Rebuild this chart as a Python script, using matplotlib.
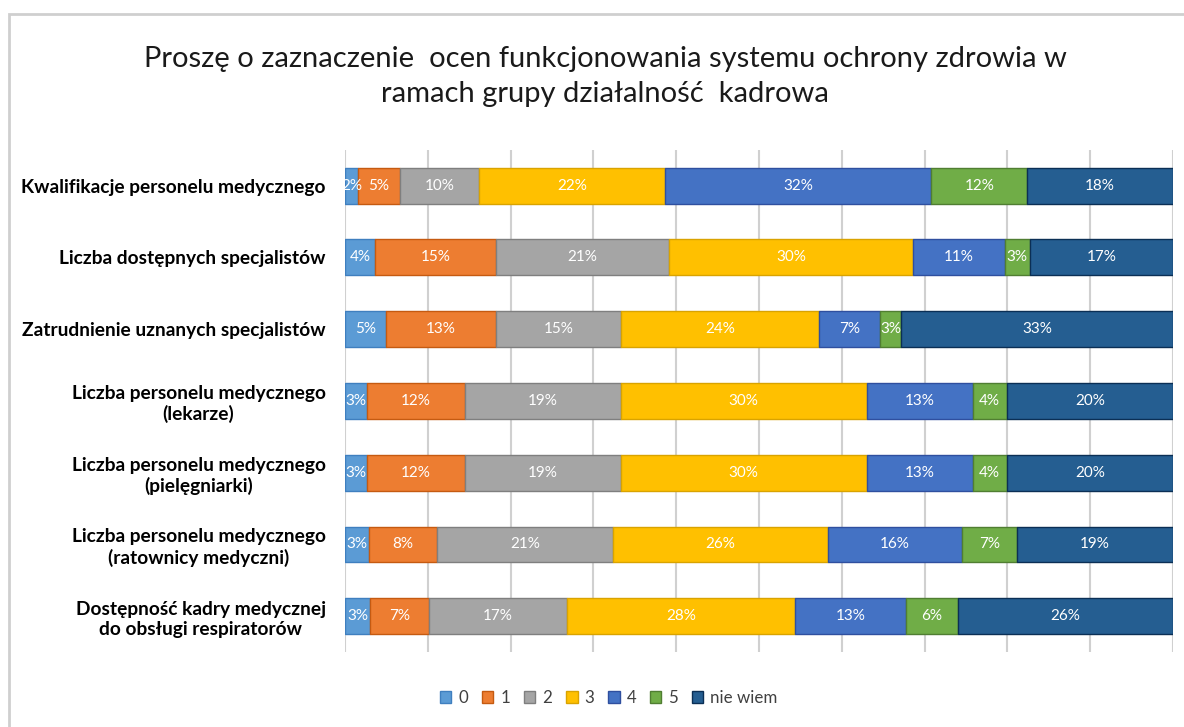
import numpy as np
import matplotlib
matplotlib.use('Agg')
import matplotlib.pyplot as plt
from matplotlib.patches import Rectangle

categories = ['Kwalifikacje personelu medycznego',
              'Liczba dostępnych specjalistów',
              'Zatrudnienie uznanych specjalistów',
              'Liczba personelu medycznego\n(lekarze)',
              'Liczba personelu medycznego\n(pielęgniarki)',
              'Liczba personelu medycznego\n(ratownicy medyczni)',
              'Dostępność kadry medycznej\ndo obsługi respiratorów']

series = ['0', '1', '2', '3', '4', '5', 'nie wiem']

# percent shares, one list per category
kwalifikacje = [1.6, 5.0, 9.6, 22.4, 32.2, 11.6, 17.6]
specjalisci = [3.6, 14.6, 20.9, 29.5, 11.1, 3.0, 17.3]
zatrudnienie = [4.9, 13.3, 15.1, 24.0, 7.3, 2.6, 32.8]
lekarze = [2.6, 11.9, 18.8, 29.7, 12.8, 4.1, 20.1]
pielegniarki = [2.6, 11.9, 18.8, 29.7, 12.8, 4.1, 20.1]
ratownicy = [2.9, 8.2, 21.3, 25.9, 16.2, 6.6, 18.9]
respiratory = [3.0, 7.2, 16.6, 27.6, 13.4, 6.2, 26.0]

colors = ['#5B9BD5', '#ED7D31', '#A5A5A5', '#FFC000', '#4472C4', '#70AD47', '#255E91']
edges = ['#3F7FBF', '#C55A11', '#7F7F7F', '#D9A300', '#2F4F9F', '#507E32', '#0B2F55']

data = np.array([kwalifikacje, specjalisci, zatrudnienie, lekarze,
                 pielegniarki, ratownicy, respiratory])

plt.rcParams['font.family'] = ['Lato', 'DejaVu Sans']

fig = plt.figure(figsize=(11.84, 7.27), dpi=100)
ax = fig.add_axes([0.2914, 0.103, 0.6993, 0.691])

y = np.arange(len(categories))
left = np.zeros(len(categories))
for i, name in enumerate(series):
    vals = data[:, i]
    bars = ax.barh(y, vals, left=left, height=0.5, color=colors[i],
                   edgecolor=edges[i], linewidth=1, label=name, zorder=3)
    for b, v in zip(bars, vals):
        ax.text(b.get_x() + b.get_width() / 2, b.get_y() + b.get_height() / 2,
                f'{v:.0f}%', ha='center', va='center', color='white',
                fontsize=11, zorder=4)
    left += vals

ax.set_xlim(0, 100)
ax.set_ylim(len(categories) - 0.5, -0.5)
ax.set_xticks(np.arange(0, 101, 10))
ax.xaxis.grid(True, color='#D0D0D0', linewidth=1.5, zorder=0)
ax.tick_params(axis='x', length=0, labelbottom=False)
ax.tick_params(axis='y', length=0, pad=14)
ax.set_yticks(y)
ax.set_yticklabels(categories, fontsize=13.8, fontweight='bold', color='black')
for lbl in ax.get_yticklabels():
    lbl.set_multialignment('center')
for s in ax.spines.values():
    s.set_visible(False)

fig.text(0.511, 0.895, 'Proszę o zaznaczenie  ocen funkcjonowania systemu ochrony zdrowia w\nramach grupy działalność  kadrowa',
         ha='center', va='center', fontsize=21, color='#1a1a1a', linespacing=1.4)

fig.legend(loc='center', bbox_to_anchor=(0.514, 0.04), ncol=7, frameon=False,
           fontsize=12.2, handlelength=0.7, handleheight=0.7, handletextpad=0.4,
           columnspacing=0.8, labelcolor='#404040')

# chart frame (only top and left edges are inside the screenshot)
fig.patches.append(Rectangle((9 / 1184, -0.05), 1.2, 1.05 - 14 / 727, transform=fig.transFigure,
                             fill=False, edgecolor='#CFCFCF', linewidth=2))

fig.savefig('out.png', dpi=100)
